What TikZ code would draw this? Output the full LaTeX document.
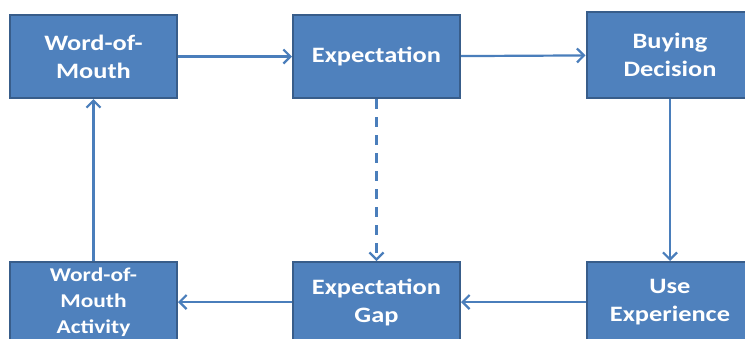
\documentclass[tikz,border=0pt]{standalone}
\usepackage{fontspec}
\setmainfont{Carlito}
\newfontfamily\boxfont[FakeStretch=1.2]{Carlito}
\usetikzlibrary{arrows.meta}
\definecolor{boxfill}{HTML}{4F81BD}
\definecolor{boxline}{HTML}{385D8A}
\definecolor{arrcol}{HTML}{4A7EBB}
\tikzset{
  stepbox/.style={rectangle, fill=boxfill, draw=boxline, line width=2pt,
    text=white, font=\boxfont\fontsize{22}{28}\selectfont\bfseries, align=center,
    minimum width=167pt, minimum height=83pt, inner sep=0pt},
  smallbox/.style={stepbox, font=\boxfont\fontsize{19.5}{26}\selectfont\bfseries},
  arr/.style={draw=arrcol, line width=2.2pt, -{Straight Barb[length=7pt,width=14pt]}},
  dasharr/.style={arr, dash pattern=on 10pt off 8pt}
}
\begin{document}
\begin{tikzpicture}[x=1pt,y=1pt]
\useasboundingbox (0,0) rectangle (745,-338);
\clip (0,0) rectangle (745,-338);
\node[stepbox] (wom) at (93.5,-56.5) {Word-of-\\Mouth};
\node[stepbox] (exp) at (376.5,-56.5) {Expectation};
\node[stepbox, minimum height=86pt] (buy) at (670,-55) {Buying\\Decision};
\node[smallbox, minimum height=80pt] (act) at (93.5,-302) {Word-of-\\Mouth\\Activity};
\node[stepbox, minimum height=80pt] (gap) at (376.5,-302) {Expectation\\Gap};
\node[stepbox, minimum height=80pt] (use) at (670,-302) {Use\\Experience};
\draw[arr] (wom) -- (exp);
\draw[arr] (exp) -- (buy);
\draw[arr] (buy) -- (use);
\draw[arr] (use) -- (gap);
\draw[arr] (gap) -- (act);
\draw[arr] (act) -- (wom);
\draw[dasharr] (exp) -- (gap);
\end{tikzpicture}
\end{document}
